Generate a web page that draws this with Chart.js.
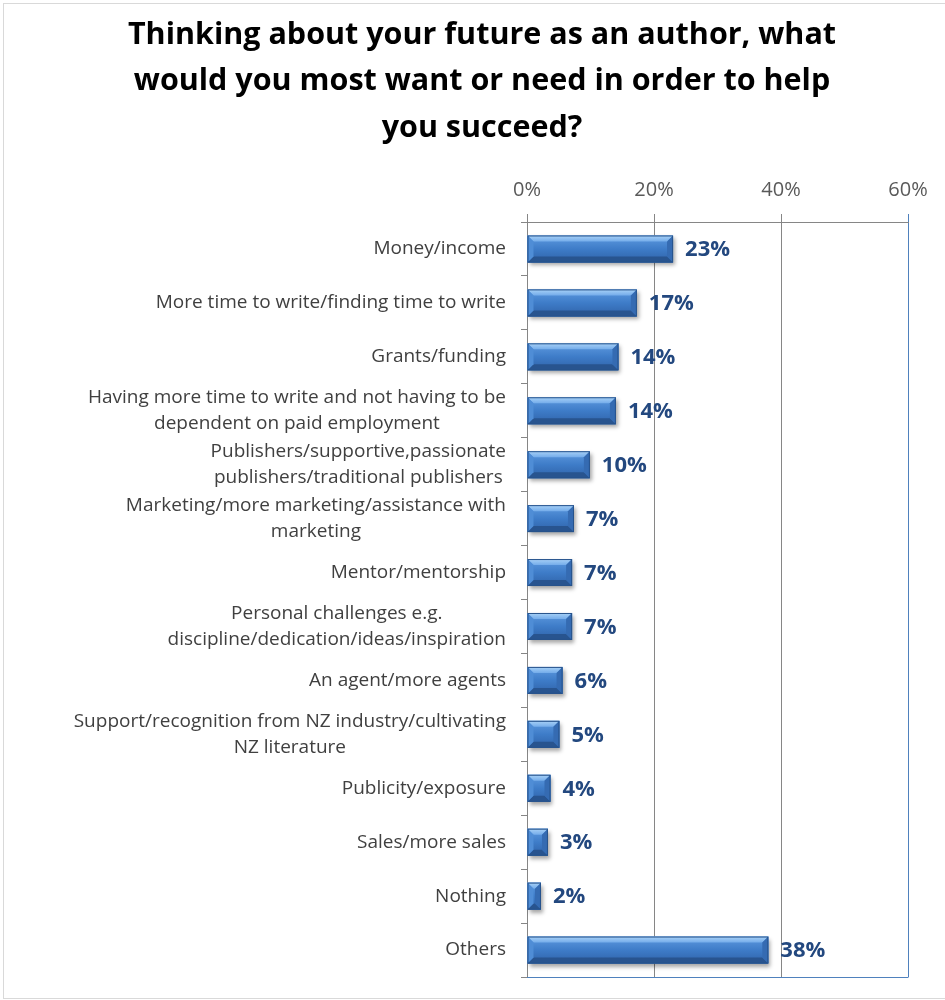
<!DOCTYPE html>
<html>
<head>
<meta charset="utf-8">
<script src="https://cdn.jsdelivr.net/npm/chart.js@4.4.1/dist/chart.umd.min.js"></script>
<style>
    body { margin: 0; background: #fff; }
    #frame { position: absolute; left: 3px; top: 3px; width: 960px; height: 994px; border: 1px solid #d9d9d9; }
    #chart { position: absolute; left: 0; top: 0; }
</style>
</head>
<body>
<div id="frame"></div>
<canvas id="chart" width="945" height="1000"></canvas>
<script>
// --- Data ---
const titleLines = [
    'Thinking about your future as an author, what',
    'would you most want or need in order to help',
    'you succeed?'
];
const categories = [
    ['Money/income'],
    ['More time to write/finding time to write'],
    ['Grants/funding'],
    ['Having more time to write and not having to be', 'dependent on paid employment'],
    ['Publishers/supportive,passionate', 'publishers/traditional publishers'],
    ['Marketing/more marketing/assistance with', 'marketing'],
    ['Mentor/mentorship'],
    ['Personal challenges e.g.', 'discipline/dedication/ideas/inspiration'],
    ['An agent/more agents'],
    ['Support/recognition from NZ industry/cultivating', 'NZ literature'],
    ['Publicity/exposure'],
    ['Sales/more sales'],
    ['Nothing'],
    ['Others']
];
const percentValues = [23.0, 17.3, 14.4, 14.0, 9.9, 7.4, 7.1, 7.1, 5.6, 5.1, 3.7, 3.3, 2.2, 38.0];
const percentLabels = ['23%', '17%', '14%', '14%', '10%', '7%', '7%', '7%', '6%', '5%', '4%', '3%', '2%', '38%'];
const axisTicks = [0, 20, 40, 60];

const FONT = '"Open Sans", Lato, sans-serif';
const GRID_GRAY = '#868686';
const FRAME_BLUE = '#4f81bd';

// --- Bar shadow while the library draws the bars ---
const shadowPlugin = {
    id: 'barShadow',
    beforeDatasetDraw(chart) {
        const ctx = chart.ctx;
        ctx.save();
        ctx.shadowColor = 'rgba(0, 0, 0, 0.35)';
        ctx.shadowBlur = 4;
        ctx.shadowOffsetX = 2;
        ctx.shadowOffsetY = 3;
    },
    afterDatasetDraw(chart) {
        chart.ctx.restore();
    }
};

// --- Bevel look, value labels, category labels, blue frame ---
const decorPlugin = {
    id: 'decor',
    afterDatasetsDraw(chart) {
        const ctx = chart.ctx;
        const meta = chart.getDatasetMeta(0);
        meta.data.forEach((bar, i) => {
            const p = bar.getProps(['x', 'y', 'base', 'height'], true);
            const x0 = p.base, x1 = p.x;
            const y0 = p.y - p.height / 2, y1 = p.y + p.height / 2;
            const w = x1 - x0;
            const b = Math.min(6, w / 2, p.height / 3);

            ctx.save();
            // body
            const g = ctx.createLinearGradient(0, y0, 0, y1);
            g.addColorStop(0, '#5f9be0');
            g.addColorStop(0.5, '#3e7cc8');
            g.addColorStop(1, '#2f62a8');
            ctx.fillStyle = g;
            ctx.fillRect(x0, y0, w, p.height);
            // top bevel
            const gt = ctx.createLinearGradient(0, y0, 0, y0 + b);
            gt.addColorStop(0, '#a9d2f7');
            gt.addColorStop(1, '#74acea');
            ctx.fillStyle = gt;
            ctx.beginPath();
            ctx.moveTo(x0, y0); ctx.lineTo(x1, y0); ctx.lineTo(x1 - b, y0 + b); ctx.lineTo(x0 + b, y0 + b);
            ctx.closePath(); ctx.fill();
            // bottom bevel
            ctx.fillStyle = '#28548f';
            ctx.beginPath();
            ctx.moveTo(x0, y1); ctx.lineTo(x1, y1); ctx.lineTo(x1 - b, y1 - b); ctx.lineTo(x0 + b, y1 - b);
            ctx.closePath(); ctx.fill();
            // right end bevel
            ctx.fillStyle = '#356bb2';
            ctx.beginPath();
            ctx.moveTo(x1, y0); ctx.lineTo(x1, y1); ctx.lineTo(x1 - b, y1 - b); ctx.lineTo(x1 - b, y0 + b);
            ctx.closePath(); ctx.fill();
            // left end bevel
            ctx.fillStyle = '#4f8dd6';
            ctx.beginPath();
            ctx.moveTo(x0, y0); ctx.lineTo(x0, y1); ctx.lineTo(x0 + b, y1 - b); ctx.lineTo(x0 + b, y0 + b);
            ctx.closePath(); ctx.fill();
            // outline
            ctx.strokeStyle = '#27538c';
            ctx.lineWidth = 1;
            ctx.strokeRect(x0 + 0.5, y0 + 0.5, w - 1, p.height - 1);

            // value label
            ctx.fillStyle = '#23487f';
            ctx.font = 'bold 22px ' + FONT;
            ctx.textAlign = 'left';
            ctx.textBaseline = 'middle';
            ctx.fillText(percentLabels[i], x1 + 12, p.y + 1);
            ctx.restore();
        });
    },
    afterDraw(chart) {
        const ctx = chart.ctx;
        const area = chart.chartArea;
        const yScale = chart.scales.y;

        // blue bottom frame line
        ctx.save();
        ctx.strokeStyle = FRAME_BLUE;
        ctx.lineWidth = 1;
        ctx.beginPath();
        ctx.moveTo(area.left, area.bottom + 0.5);
        ctx.lineTo(area.right + 0.5, area.bottom + 0.5);
        ctx.stroke();

        // category labels: block right-aligned, lines centred inside the block
        ctx.font = '19px ' + FONT;
        ctx.fillStyle = '#404040';
        ctx.textAlign = 'center';
        ctx.textBaseline = 'middle';
        const rightEdge = area.left - 21;
        const lineH = 26;
        categories.forEach((lines, i) => {
            const cy = yScale.getPixelForValue(i);
            const blockW = Math.max(...lines.map(l => ctx.measureText(l).width));
            const cx = rightEdge - blockW / 2;
            lines.forEach((line, k) => {
                const ly = cy + (k - (lines.length - 1) / 2) * lineH;
                ctx.fillText(line, cx, ly);
            });
        });
        ctx.restore();
    }
};

new Chart(document.getElementById('chart'), {
    type: 'bar',
    data: {
        labels: categories.map(c => c.join(' ')),
        datasets: [{
            data: percentValues,
            backgroundColor: '#3e7cc8',
            borderWidth: 0,
            barPercentage: 0.5,
            categoryPercentage: 1.0
        }]
    },
    options: {
        indexAxis: 'y',
        responsive: false,
        animation: false,
        layout: { padding: { left: 56, right: 37, top: 0, bottom: 23 } },
        plugins: {
            legend: { display: false },
            tooltip: { enabled: false },
            title: {
                display: true,
                text: titleLines,
                color: '#000000',
                font: { family: FONT, size: 30.5, weight: 'bold', lineHeight: 1.5246 },
                padding: { top: 12, bottom: 0 }
            }
        },
        scales: {
            x: {
                position: 'top',
                min: 0,
                max: 60,
                afterFit(scale) { scale.height = 70.5; },
                afterBuildTicks(scale) { scale.ticks = axisTicks.map(v => ({ value: v })); },
                ticks: {
                    color: '#595959',
                    font: { family: FONT, size: 20 },
                    padding: 12,
                    callback: v => v + '%'
                },
                grid: {
                    color: ctx => (ctx.tick && ctx.tick.value === 60) ? FRAME_BLUE : GRID_GRAY,
                    lineWidth: 1,
                    tickLength: 8
                },
                border: { display: true, color: GRID_GRAY }
            },
            y: {
                afterFit(scale) { scale.width = 471; },
                ticks: { display: false },
                grid: {
                    drawOnChartArea: false,
                    drawTicks: true,
                    tickLength: 6,
                    color: GRID_GRAY,
                    offset: true
                },
                border: { display: true, color: GRID_GRAY }
            }
        }
    },
    plugins: [shadowPlugin, decorPlugin]
});
</script>
</body>
</html>
